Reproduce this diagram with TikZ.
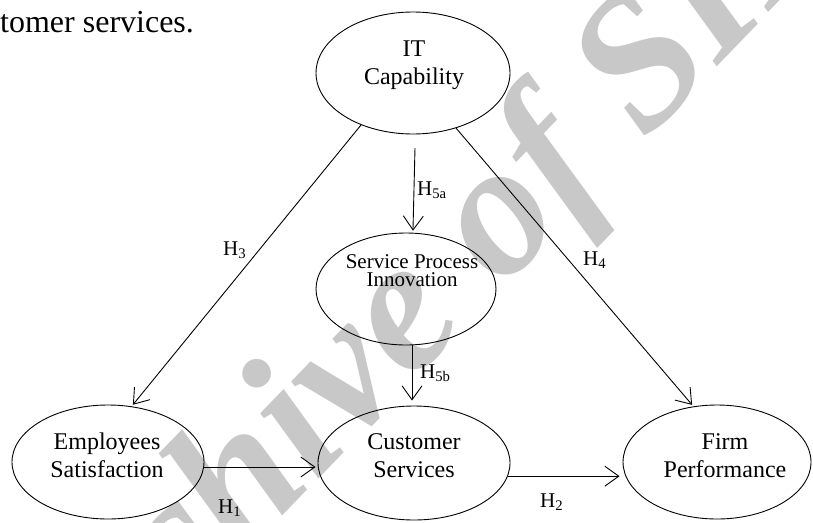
\documentclass[tikz,border=0pt]{standalone}
\usepackage{fontspec}
\setmainfont{Liberation Serif}
\usetikzlibrary{arrows.meta,shapes.geometric}
\definecolor{wmgray}{RGB}{200,200,200}
\begin{document}
\begin{tikzpicture}[x=1pt,y=-1pt,
  construct/.style={draw=black, line width=0.9pt, ellipse, inner sep=0pt},
  lbl/.style={inner sep=0pt, align=center, font=\fontsize{24}{28}\selectfont},
  hyp/.style={inner sep=0pt, anchor=base west, font=\fontsize{21}{24}\selectfont},
  arr/.style={line width=0.9pt, -{Straight Barb[length=14pt,width=20pt]}, shorten >=2pt},
]
\useasboundingbox (0,0) rectangle (813,522);
\begin{scope}
\clip (0,0) rectangle (813,522);
\node[text=wmgray, rotate=46, inner sep=0pt, font=\fontsize{190}{190}\selectfont\bfseries\itshape] (wm) at (421,306) {Archive of SID};
\end{scope}
\node[inner sep=0pt, anchor=base west, font=\fontsize{32}{36}\selectfont] (frag) at (0,32) {tomer services.};
% constructs
\node[construct, minimum width=194pt, minimum height=122pt] (it) at (413,73) {};
\node[lbl] (itt) at (414,65.5) {IT\\Capability};
\node[construct, minimum width=180pt, minimum height=112pt] (spi) at (406,289) {};
\node[lbl, font=\fontsize{21}{18}\selectfont] (spit) at (412,270.5) {Service Process\\Innovation};
\node[construct, minimum width=192pt, minimum height=114pt] (es) at (108,462) {};
\node[lbl] (est) at (107,455) {Employees\\Satisfaction};
\node[construct, minimum width=192pt, minimum height=114pt] (cs) at (414,463) {};
\node[lbl] (cst) at (414,456) {Customer\\Services};
\node[construct, minimum width=188pt, minimum height=114pt] (fp) at (717,462) {};
\node[lbl] (fpt) at (725,455.5) {Firm\\Performance};
% connectors
\coordinate (h5a) at (415,148);
\draw[arr] (it.225) -- (es.67);
\draw[arr] (it.308) -- (fp.113);
\draw[arr] (h5a) -- (spi.83);
\draw[arr, shorten >=5pt] ([xshift=6pt]spi.south) -- ([xshift=-2pt]cs.north);
\draw[arr] ([yshift=-5pt]es.east) -- ([yshift=-4pt]cs.west);
\draw[arr, shorten >=3pt] (cs.-8.6) -- (cs.-8.6 -| fp.west);
% hypothesis labels
\node[hyp] (h5al) at (417,195) {H\textsubscript{5a}};
\node[hyp] (h5bl) at (420,378) {H\textsubscript{5b}};
\node[hyp] (h3l) at (223,255) {H\textsubscript{3}};
\node[hyp] (h4l) at (583,265) {H\textsubscript{4}};
\node[hyp] (h1l) at (218,513) {H\textsubscript{1}};
\node[hyp] (h2l) at (540,507) {H\textsubscript{2}};
\end{tikzpicture}
\end{document}
